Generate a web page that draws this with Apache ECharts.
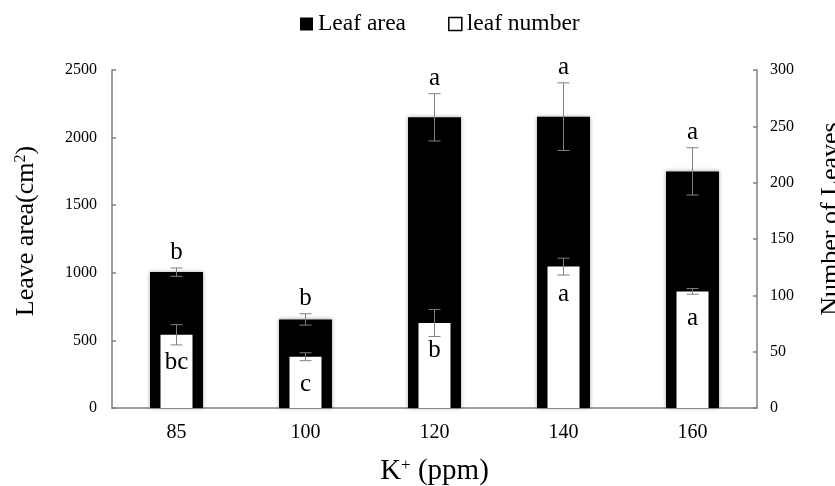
<!DOCTYPE html>
<html><head><meta charset="utf-8">
<script src="https://cdn.jsdelivr.net/npm/echarts@6/dist/echarts.min.js"></script>
<style>html,body{margin:0;padding:0;background:#fff}#c{width:835px;height:486px}</style>
</head><body><div id="c"></div>
<script>
// ---- data ----
const categories = ['85', '100', '120', '140', '160'];
const leafArea = [1005, 655, 2150, 2155, 1750];
const leafAreaErr = [31, 42, 175, 250, 175];
const leafAreaLetters = ['b', 'b', 'a', 'a', 'a'];
const leafNumber = [65, 45.5, 75.5, 125.5, 103.5];
const leafNumberErr = [9, 3.5, 12, 7.5, 2.5];
const leafNumberLetters = ['bc', 'c', 'b', 'a', 'a'];
const leftTicks = [0, 500, 1000, 1500, 2000, 2500];
const rightTicks = [0, 50, 100, 150, 200, 250, 300];

const FONT = "'Liberation Serif', 'Times New Roman', serif";
const AXIS_GRAY = '#808080';

function errorSeries(name, values, errs, letters, above, axisIdx) {
  return {
    name: name + ' err', type: 'custom', xAxisIndex: axisIdx, yAxisIndex: axisIdx, z: 10,
    silent: true,
    data: categories.map((c, i) => [i, values[i], errs[i]]),
    renderItem(params, api) {
      const i = params.dataIndex;
      const hi = api.coord([i, values[i] + errs[i]]);
      const lo = api.coord([i, values[i] - errs[i]]);
      const top = api.coord([i, values[i]]);
      const x = top[0];
      const cap = 6;
      const ls = { stroke: AXIS_GRAY, lineWidth: 1 };
      return {
        type: 'group',
        children: [
          { type: 'line', shape: { x1: x, y1: hi[1], x2: x, y2: lo[1] }, style: ls },
          { type: 'line', shape: { x1: x - cap, y1: hi[1], x2: x + cap, y2: hi[1] }, style: ls },
          { type: 'line', shape: { x1: x - cap, y1: lo[1], x2: x + cap, y2: lo[1] }, style: ls },
          { type: 'text', style: {
              text: letters[i], x: x, y: above ? hi[1] - 3 : top[1] + 40,
              align: 'center', verticalAlign: 'bottom',
              font: '25px ' + FONT, fill: '#000' } }
        ]
      };
    }
  };
}

const chart = echarts.init(document.getElementById('c'), null, { renderer: 'canvas' });
const option = {
  animation: false,
  backgroundColor: '#fff',
  textStyle: { fontFamily: FONT },
  legend: {
    left: 295, top: 7, itemWidth: 13, itemHeight: 13, itemGap: 42, icon: 'rect',
    textStyle: { fontSize: 23.5, color: '#000', fontFamily: FONT },
    data: [
      { name: 'Leaf area', itemStyle: { color: '#000' } },
      { name: 'leaf number', itemStyle: { color: '#fff', borderColor: '#000', borderWidth: 1.5 } }
    ]
  },
  grid: { left: 112, right: 78, top: 70, bottom: 78, containLabel: false, outerBoundsMode: 'none' },
  xAxis: [
    {
      type: 'category', data: categories,
      axisLine: { lineStyle: { color: AXIS_GRAY, width: 1.5 } },
      axisTick: { show: false },
      axisLabel: { fontSize: 20, color: '#000', margin: 15, fontFamily: FONT },
      name: '{m|K}{s|+}{m| (ppm)}', nameLocation: 'middle', nameGap: 49,
      nameTextStyle: { color: '#000', rich: {
        m: { fontSize: 29, fontFamily: FONT, color: '#000' },
        s: { fontSize: 17, fontFamily: FONT, color: '#000', verticalAlign: 'top' } } }
    },
    { type: 'category', data: categories, show: false }
  ],
  yAxis: [
    {
      type: 'value', min: leftTicks[0], max: leftTicks[leftTicks.length - 1],
      interval: leftTicks[1] - leftTicks[0],
      splitLine: { show: false },
      axisLine: { show: true, lineStyle: { color: AXIS_GRAY, width: 1.5 } },
      axisTick: { show: true, inside: true, length: 4, lineStyle: { color: AXIS_GRAY, width: 1.5 } },
      axisLabel: { fontSize: 16, color: '#000', margin: 15, fontFamily: FONT, formatter: v => String(v) },
      name: '{m|Leave area(cm}{s|2}{m|)}', nameLocation: 'middle', nameGap: 73,
      nameTextStyle: { color: '#000', padding: [0, 0, 0, 16], rich: {
        m: { fontSize: 26, fontFamily: FONT, color: '#000' },
        s: { fontSize: 16, fontFamily: FONT, color: '#000', verticalAlign: 'top' } } }
    },
    {
      type: 'value', position: 'right', min: rightTicks[0], max: rightTicks[rightTicks.length - 1],
      interval: rightTicks[1] - rightTicks[0],
      splitLine: { show: false },
      axisLine: { show: true, lineStyle: { color: AXIS_GRAY, width: 1.5 } },
      axisTick: { show: true, inside: true, length: 4, lineStyle: { color: AXIS_GRAY, width: 1.5 } },
      axisLabel: { fontSize: 16, color: '#000', margin: 13, fontFamily: FONT, formatter: v => String(v) },
      name: 'Number of Leaves', nameLocation: 'middle', nameGap: 61,
      nameTextStyle: { color: '#000', fontSize: 26, fontFamily: FONT, padding: [0, 0, 0, 40] }
    }
  ],
  series: [
    {
      name: 'Leaf area', type: 'bar', xAxisIndex: 0, yAxisIndex: 0, barWidth: 53,
      data: leafArea,
      itemStyle: { color: '#000', shadowColor: 'rgba(0,0,0,0.35)', shadowBlur: 4 }
    },
    {
      name: 'leaf number', type: 'bar', xAxisIndex: 1, yAxisIndex: 1, barWidth: 32, z: 3,
      data: leafNumber,
      itemStyle: { color: '#fff' }
    },
    errorSeries('Leaf area', leafArea, leafAreaErr, leafAreaLetters, true, 0),
    errorSeries('leaf number', leafNumber, leafNumberErr, leafNumberLetters, false, 1)
  ]
};
chart.setOption(option);
</script></body></html>
